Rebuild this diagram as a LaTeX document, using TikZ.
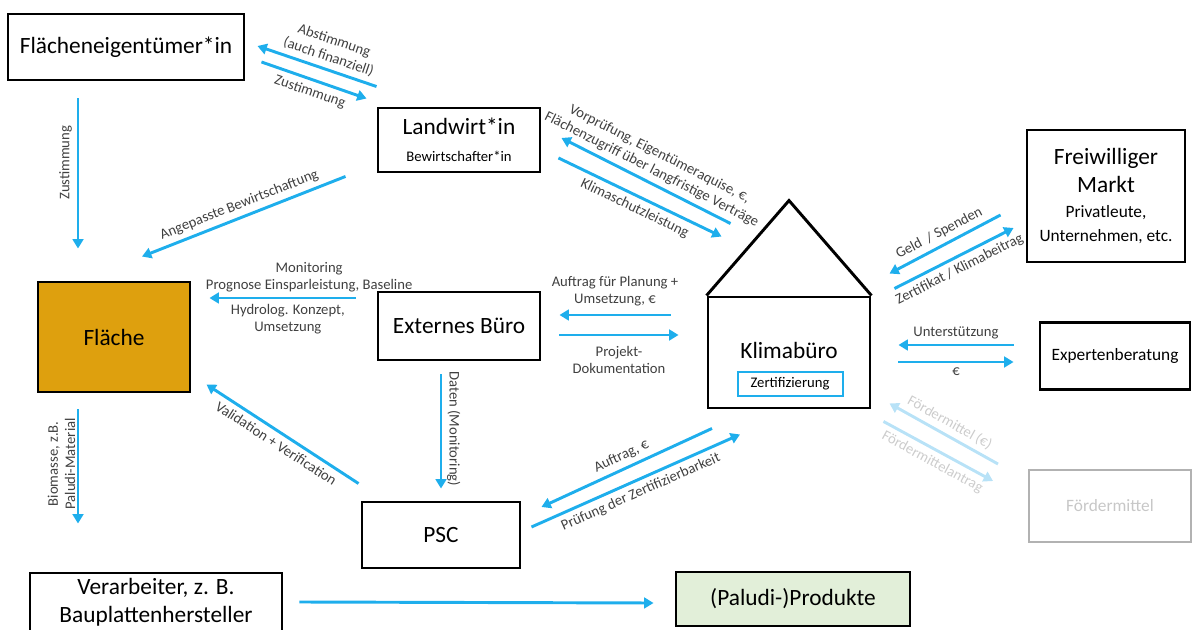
\documentclass[tikz,border=0pt]{standalone}
\usepackage{fontspec}
\setmainfont{Carlito}
\usetikzlibrary{arrows.meta,positioning}

\definecolor{flowblue}{RGB}{30,174,236}
\definecolor{fadeblue}{RGB}{184,226,247}
\definecolor{flgold}{RGB}{222,160,14}
\definecolor{prodgreen}{RGB}{226,239,217}
\definecolor{lbltext}{RGB}{64,64,64}

\newcommand{\bigfnt}{\fontsize{17.5}{21}\selectfont}
\newcommand{\midfnt}{\fontsize{13}{15.5}\selectfont}
\newcommand{\lblfnt}{\fontsize{11}{13}\selectfont}

\begin{document}
\begin{tikzpicture}[
    x=0.75pt,
    y=-0.75pt,
    wh/.style 2 args={minimum width=#1*0.75pt, minimum height=#2*0.75pt},
    box/.style={draw, line width=2.2pt, align=center, inner sep=2pt, font=\bigfnt},
    flow/.style={flowblue, line width=2.2pt, -{Triangle[length=7pt,width=8pt]}},
    faded/.style={fadeblue, line width=2.2pt, -{Triangle[length=7pt,width=8pt]}},
    lbl/.style={text=lbltext, font=\lblfnt, align=center, inner sep=3.5pt}
]
    \useasboundingbox (0,0) rectangle (1192,630);

    % Boxes
    \node[box, wh={236}{66}] (eig) at (126,47) {Flächeneigentümer*in};
    \node[box, wh={162}{64}] (lw) at (459,140)
        {Landwirt*in\\[-1pt]{\fontsize{11}{13}\selectfont Bewirtschafter*in}};
    \node[box, wh={158}{132}] (fm) at (1106,196)
        {Freiwilliger\\Markt\\[-2pt]{\midfnt Privatleute,}\\[-3pt]{\midfnt Unternehmen, etc.}};
    \node[box, fill=flgold, wh={152}{110}] (fl) at (114,337) {Fläche};
    \node[box, wh={162}{68}] (eb) at (459,326) {Externes Büro};
    \node[box, wh={162}{111}] (kb) at (789,352.5) {};
    \node[font=\bigfnt] (kbt) at (789,350) {Klimabüro};
    \node[draw=flowblue, line width=1.5pt, wh={105}{24}, inner sep=1pt,
          font=\fontsize{11}{13}\selectfont] (zt) at (790,384) {Zertifizierung};
    \node[box, wh={150}{67}, font=\midfnt] (ex) at (1115,356) {Expertenberatung};
    \node[box, draw=black!30, line width=1.5pt, text=black!22, wh={162}{72}, font=\midfnt]
        (fo) at (1110,506) {Fördermittel};
    \node[box, wh={158}{66}] (psc) at (441,535) {PSC};
    \node[box, wh={252}{58}] (vb) at (156,602) {Verarbeiter, z. B.\\Bauplattenhersteller};
    \node[box, fill=prodgreen, wh={234}{54}] (pp) at (793,599) {(Paludi-)Produkte};

    % Roof of the Klimabuero
    \draw[line width=2.2pt, line join=miter] (kb.north west)
        -- ([shift={(0,-95)}]kb.north) -- (kb.north east);

    % Flaecheneigentuemer*in and Landwirt*in
    \draw[flow] ([shift={(0,-20)}]lw.north west) -- ([shift={(12,-1)}]eig.east)
        node[lbl, midway, above, sloped, xshift=6pt] {Abstimmung\\(auch finanziell)};
    \draw[flow] ([shift={(16,15)}]eig.east) -- ([shift={(-10,-8)}]lw.north west)
        node[lbl, midway, below, sloped] {Zustimmung};
    \draw[flow] ([shift={(-48,17)}]eig.south) -- ([shift={(-36,-32)}]fl.north)
        node[lbl, midway, rotate=90, above=8pt] {Zustimmung};
    \draw[flow] ([shift={(-31,3)}]lw.south west) -- ([shift={(28,-24)}]fl.north)
        node[lbl, midway, above, sloped] {Angepasste Bewirtschaftung};

    % Klimabuero and Landwirt*in
    \draw[flow] ([shift={(24,-72)}]kb.north west) -- ([shift={(20,-2)}]lw.east)
        node[lbl, midway, above, sloped] {Vorprüfung, Eigentümeraquise, €,\\Flächenzugriff über langfristige Verträge};
    \draw[flow] ([shift={(17,18)}]lw.east) -- ([shift={(15,-59)}]kb.north west)
        node[lbl, midway, below, sloped] {Klimaschutzleistung};

    % Externes Buero
    \draw[flow] ([shift={(-21,-28)}]eb.west) -- ([shift={(18,-39)}]fl.east)
        node[lbl, midway, above, xshift=20pt] {Monitoring\\Prognose Einsparleistung, Baseline}
        node[lbl, midway, below, xshift=4pt] {Hydrolog. Konzept,\\Umsetzung};
    \draw[flow] ([shift={(-36,-37.5)}]kb.west) -- ([shift={(18,-11)}]eb.east)
        node[lbl, midway, above=2pt] {Auftrag für Planung +\\Umsetzung, €};
    \draw[flow] ([shift={(18,9)}]eb.east) -- ([shift={(-28,-17.5)}]kb.west)
        node[lbl, midway, below=4pt] {Projekt-\\Dokumentation};
    \draw[flow] ([shift={(-18,13)}]eb.south) -- ([shift={(0,-12)}]psc.north)
        node[lbl, midway, rotate=-90, above=2pt] {Daten (Monitoring)};

    % PSC
    \draw[flow] ([shift={(-2,-17)}]psc.north west) -- ([shift={(15,-9)}]fl.south east)
        node[lbl, midway, below, sloped] {Validation + Verification};
    \draw[flow] ([shift={(-77,19)}]kb.south) -- ([shift={(20,-28)}]psc.east)
        node[lbl, midway, above, sloped] {Auftrag, €};
    \draw[flow] ([shift={(10,-8)}]psc.east) -- ([shift={(-49,25)}]kb.south)
        node[lbl, midway, below, sloped] {Prüfung der Zertifizierbarkeit};

    % Freiwilliger Markt and Expertenberatung
    \draw[flow] ([shift={(-25,19)}]fm.west) -- ([shift={(18,-22)}]kb.north east)
        node[lbl, midway, above, sloped] {Geld~ / Spenden};
    \draw[flow] ([shift={(23,-7)}]kb.north east) -- ([shift={(-12,32)}]fm.west)
        node[lbl, midway, below, sloped] {Zertifikat / Klimabeitrag};
    \draw[flow] ([shift={(-25,-11)}]ex.west) -- ([shift={(27,-7.5)}]kb.east)
        node[lbl, midway, above] {Unterstützung};
    \draw[flow] ([shift={(27,9.5)}]kb.east) -- ([shift={(-25,6)}]ex.west)
        node[lbl, midway, below] {€};

    % Foerdermittel (faded)
    \draw[faded] ([shift={(-30,-5)}]fo.north west) -- ([shift={(18,-6)}]kb.south east)
        node[lbl, text=black!20, midway, above, sloped] {Fördermittel (€)};
    \draw[faded] ([shift={(12,12)}]kb.south east) -- ([shift={(-35,12)}]fo.north west)
        node[lbl, text=black!20, midway, below, sloped] {Fördermittelantrag};

    % Biomasse and Produkte
    \draw[flow] ([shift={(-36,16)}]fl.south) -- ([shift={(-78,-48)}]vb.north)
        node[lbl, midway, rotate=90, above=2pt, inner sep=1pt] {Biomasse, z.B.\\Paludi-Material};
    \draw[flow] ([shift={(16,0)}]vb.east) -- ([shift={(-21,4)}]pp.west);
\end{tikzpicture}
\end{document}
